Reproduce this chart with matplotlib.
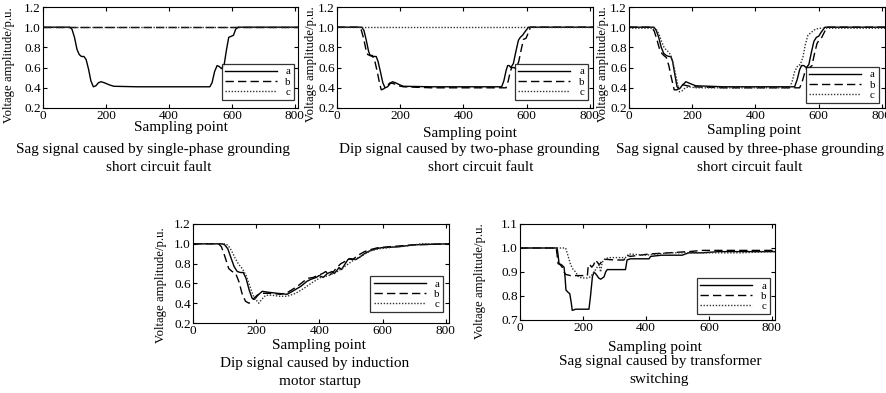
import matplotlib
matplotlib.use("Agg")
import matplotlib.pyplot as plt

plt.rcParams['font.family'] = ['Liberation Serif', 'DejaVu Serif']

# ---------------- data ----------------
# Panel 1: single-phase grounding fault
p1_a_x = [0, 85, 92, 100, 108, 115, 122, 130, 137, 145, 152, 160, 168, 176, 184, 195, 210, 225, 300, 400, 500, 530, 537, 545, 553, 560, 567, 575, 583, 590, 598, 605, 612, 620, 700, 810]
p1_a_y = [1.0, 1.0, 0.98, 0.9, 0.78, 0.73, 0.71, 0.71, 0.68, 0.58, 0.47, 0.41, 0.42, 0.45, 0.46, 0.45, 0.43, 0.415, 0.41, 0.41, 0.41, 0.41, 0.45, 0.56, 0.62, 0.61, 0.59, 0.62, 0.78, 0.9, 0.91, 0.92, 0.98, 1.0, 1.0, 1.0]
p1_b_x = [0, 810]
p1_b_y = [1.0, 1.0]
p1_c_x = [0, 810]
p1_c_y = [1.0, 1.0]

# Panel 2: two-phase grounding fault
p2_a_x = [0, 78, 85, 92, 100, 105, 112, 124, 130, 138, 145, 152, 160, 168, 175, 185, 198, 210, 300, 400, 500, 521, 528, 535, 540, 545, 550, 558, 566, 574, 580, 587, 596, 606, 700, 810]
p2_a_y = [1.0, 1.0, 0.97, 0.88, 0.76, 0.72, 0.71, 0.71, 0.66, 0.55, 0.45, 0.40, 0.41, 0.44, 0.46, 0.45, 0.43, 0.415, 0.41, 0.41, 0.41, 0.41, 0.47, 0.57, 0.62, 0.62, 0.60, 0.64, 0.76, 0.87, 0.90, 0.92, 0.96, 1.0, 1.0, 1.0]
p2_b_x = [0, 70, 77, 85, 92, 97, 104, 112, 120, 128, 135, 140, 148, 158, 168, 180, 195, 210, 300, 400, 500, 535, 542, 548, 553, 560, 567, 575, 583, 590, 598, 606, 612, 700, 810]
p2_b_y = [1.0, 1.0, 0.97, 0.88, 0.77, 0.73, 0.72, 0.72, 0.66, 0.55, 0.44, 0.38, 0.39, 0.42, 0.45, 0.44, 0.42, 0.41, 0.40, 0.40, 0.40, 0.40, 0.47, 0.56, 0.60, 0.60, 0.59, 0.66, 0.78, 0.88, 0.89, 0.95, 1.0, 1.0, 1.0]
p2_c_x = [0, 810]
p2_c_y = [1.0, 1.0]

# Panel 3: three-phase grounding fault
p3_a_x = [0, 79, 86, 94, 102, 110, 118, 126, 132, 138, 144, 152, 160, 170, 180, 195, 211, 300, 400, 500, 524, 532, 540, 546, 553, 561, 569, 577, 585, 593, 600, 608, 620, 700, 810]
p3_a_y = [1.0, 1.0, 0.97, 0.90, 0.80, 0.74, 0.72, 0.71, 0.71, 0.66, 0.55, 0.41, 0.39, 0.43, 0.46, 0.44, 0.42, 0.41, 0.41, 0.41, 0.41, 0.48, 0.58, 0.62, 0.62, 0.60, 0.63, 0.75, 0.86, 0.90, 0.91, 0.95, 1.0, 1.0, 1.0]
p3_b_x = [0, 72, 80, 88, 96, 104, 110, 118, 126, 134, 143, 152, 162, 170, 185, 200, 300, 400, 500, 540, 548, 556, 563, 571, 579, 587, 595, 603, 610, 618, 626, 700, 810]
p3_b_y = [1.0, 1.0, 0.96, 0.88, 0.79, 0.74, 0.72, 0.70, 0.62, 0.50, 0.38, 0.38, 0.41, 0.43, 0.42, 0.41, 0.40, 0.40, 0.40, 0.40, 0.46, 0.55, 0.60, 0.60, 0.62, 0.74, 0.84, 0.88, 0.90, 0.95, 1.0, 1.0, 1.0]
p3_c_x = [0, 80, 88, 95, 103, 111, 119, 127, 135, 143, 151, 159, 168, 178, 190, 210, 300, 400, 508, 516, 524, 534, 542, 550, 558, 566, 577, 590, 603, 700, 810]
p3_c_y = [0.99, 0.99, 0.97, 0.93, 0.86, 0.80, 0.77, 0.75, 0.70, 0.60, 0.48, 0.36, 0.37, 0.40, 0.41, 0.40, 0.40, 0.40, 0.40, 0.46, 0.56, 0.62, 0.63, 0.70, 0.83, 0.92, 0.95, 0.98, 0.99, 0.99, 0.99]

# Panel 4: induction motor startup
p4_a_x = [0, 92, 100, 110, 120, 130, 140, 150, 159, 168, 178, 187, 195, 205, 219, 240, 267, 298, 320, 341, 360, 372, 390, 399, 412, 425, 440, 447, 455, 462, 470, 478, 490, 499, 515, 530, 542, 560, 580, 595, 650, 700, 810]
p4_a_y = [1.0, 1.0, 0.99, 0.95, 0.86, 0.77, 0.72, 0.71, 0.71, 0.65, 0.53, 0.45, 0.44, 0.48, 0.52, 0.51, 0.50, 0.49, 0.53, 0.57, 0.62, 0.64, 0.66, 0.68, 0.66, 0.70, 0.72, 0.70, 0.73, 0.76, 0.74, 0.78, 0.84, 0.85, 0.84, 0.87, 0.90, 0.93, 0.95, 0.96, 0.97, 0.99, 1.0]
p4_b_x = [0, 81, 90, 100, 113, 124, 135, 145, 155, 166, 177, 185, 193, 203, 214, 240, 277, 300, 330, 362, 380, 395, 410, 420, 431, 445, 455, 468, 480, 492, 505, 520, 542, 560, 584, 620, 700, 810]
p4_b_y = [1.0, 1.0, 0.97, 0.88, 0.75, 0.72, 0.70, 0.62, 0.50, 0.42, 0.40, 0.42, 0.45, 0.48, 0.50, 0.50, 0.49, 0.51, 0.57, 0.65, 0.66, 0.68, 0.70, 0.72, 0.68, 0.72, 0.76, 0.80, 0.82, 0.85, 0.84, 0.88, 0.92, 0.94, 0.96, 0.97, 0.99, 1.0]
p4_c_x = [0, 103, 112, 122, 134, 145, 156, 168, 180, 190, 198, 208, 218, 230, 250, 275, 298, 325, 351, 378, 404, 430, 457, 480, 510, 535, 563, 590, 616, 680, 722, 810]
p4_c_y = [1.0, 1.0, 0.98, 0.93, 0.85, 0.79, 0.75, 0.68, 0.57, 0.48, 0.44, 0.40, 0.44, 0.48, 0.48, 0.47, 0.47, 0.50, 0.55, 0.61, 0.66, 0.68, 0.72, 0.77, 0.84, 0.88, 0.93, 0.95, 0.96, 0.98, 1.0, 1.0]

# Panel 5: transformer switching
p5_a_x = [0, 118, 121, 124, 132, 140, 143, 146, 153, 158, 163, 166, 177, 200, 219, 224, 230, 235, 242, 250, 256, 262, 267, 272, 277, 300, 335, 340, 350, 380, 410, 415, 450, 515, 536, 580, 632, 810]
p5_a_y = [1.0, 1.0, 0.97, 0.935, 0.93, 0.92, 0.88, 0.825, 0.815, 0.81, 0.77, 0.74, 0.745, 0.745, 0.745, 0.80, 0.88, 0.90, 0.89, 0.875, 0.87, 0.875, 0.88, 0.90, 0.91, 0.91, 0.91, 0.95, 0.955, 0.955, 0.955, 0.965, 0.97, 0.97, 0.98, 0.98, 0.985, 0.985]
p5_b_x = [0, 115, 118, 121, 128, 134, 140, 145, 160, 190, 214, 217, 222, 228, 234, 240, 246, 252, 260, 272, 300, 330, 340, 350, 380, 410, 473, 536, 580, 640, 810]
p5_b_y = [1.0, 1.0, 0.97, 0.935, 0.93, 0.92, 0.90, 0.89, 0.885, 0.885, 0.885, 0.93, 0.93, 0.92, 0.93, 0.95, 0.94, 0.93, 0.945, 0.953, 0.95, 0.95, 0.97, 0.965, 0.97, 0.975, 0.98, 0.985, 0.99, 0.99, 0.99]
p5_c_x = [0, 145, 152, 161, 169, 177, 183, 187, 200, 214, 224, 235, 245, 251, 256, 261, 270, 283, 310, 335, 346, 400, 473, 560, 700, 810]
p5_c_y = [1.0, 1.0, 0.97, 0.93, 0.91, 0.90, 0.885, 0.878, 0.875, 0.875, 0.88, 0.90, 0.92, 0.93, 0.90, 0.94, 0.955, 0.96, 0.96, 0.96, 0.975, 0.97, 0.98, 0.98, 0.98, 0.985]

series_labels = ['a', 'b', 'c']
x_ticks = [0, 200, 400, 600, 800]
y_ticks_main = [0.2, 0.4, 0.6, 0.8, 1.0, 1.2]
y_ticks_p5 = [0.7, 0.8, 0.9, 1.0, 1.1]

captions = [
    ("Sag signal caused by single-phase grounding", "short circuit fault"),
    ("Dip signal caused by two-phase grounding", "short circuit fault"),
    ("Sag signal caused by three-phase grounding", "short circuit fault"),
    ("Dip signal caused by induction", "motor startup"),
    ("Sag signal caused by transformer", "switching"),
]

# ---------------- layout ----------------
W, H = 886, 393
fig = plt.figure(figsize=(W / 100, H / 100), dpi=100)


def px_axes(l, r, t, b):
    return [l / W, 1 - b / H, (r - l) / W, (b - t) / H]


panels = [
    dict(rect=px_axes(43, 298, 7, 108), data=[(p1_a_x, p1_a_y), (p1_b_x, p1_b_y), (p1_c_x, p1_c_y)],
         yt=y_ticks_main, ylim=(0.2, 1.2), leg=(0.985, 0.08), ylc=(-0.11, 0.42),
         xl=(181, 128), c1=(153, 149), c2=(159, 167)),
    dict(rect=px_axes(337, 593, 7, 108), data=[(p2_a_x, p2_a_y), (p2_b_x, p2_b_y), (p2_c_x, p2_c_y)],
         yt=y_ticks_main, ylim=(0.2, 1.2), leg=(0.98, 0.08), ylc=(-0.078, 0.43),
         xl=(470, 133), c1=(469, 150), c2=(481, 167)),
    dict(rect=px_axes(629, 885, 7, 108), data=[(p3_a_x, p3_a_y), (p3_b_x, p3_b_y), (p3_c_x, p3_c_y)],
         yt=y_ticks_main, ylim=(0.2, 1.2), leg=(0.975, 0.05), ylc=(-0.078, 0.43),
         xl=(754, 131), c1=(750, 149), c2=(750, 167)),
    dict(rect=px_axes(193, 449, 224, 323), data=[(p4_a_x, p4_a_y), (p4_b_x, p4_b_y), (p4_c_x, p4_c_y)],
         yt=y_ticks_main, ylim=(0.2, 1.2), leg=(0.977, 0.11), ylc=(-0.10, 0.38),
         xl=(319, 345), c1=(315, 363), c2=(320, 382)),
    dict(rect=px_axes(520, 775, 224, 320), data=[(p5_a_x, p5_a_y), (p5_b_x, p5_b_y), (p5_c_x, p5_c_y)],
         yt=y_ticks_p5, ylim=(0.7, 1.1), leg=(0.98, 0.06), ylc=(-0.135, 0.40),
         xl=(655, 348), c1=(660, 361), c2=(659, 379)),
]

styles = [
    dict(color='black', lw=1.0, ls='-'),
    dict(color='black', lw=1.0, ls=(0, (6, 3))),
    dict(color='#333333', lw=1.0, ls=(0, (1, 1.2))),
]

for i, p in enumerate(panels):
    ax = fig.add_axes(p['rect'])
    for (xs, ys), st, lab in zip(p['data'], styles, series_labels):
        ax.plot(xs, ys, label=lab, **st)
    ax.set_xlim(0, 810)
    ax.set_ylim(*p['ylim'])
    ax.set_xticks(x_ticks)
    ax.set_yticks(p['yt'])
    ax.set_yticklabels([f"{v:.1f}" for v in p['yt']])
    ax.tick_params(direction='in', top=True, right=True, length=3, width=0.8,
                   labelsize=9.5, pad=1.5)
    for s in ax.spines.values():
        s.set_linewidth(0.8)
    ax.set_ylabel("Voltage amplitude/p.u.", fontsize=9.2)
    ax.yaxis.set_label_coords(*p['ylc'])
    leg = ax.legend(loc='lower right', bbox_to_anchor=p['leg'], fontsize=7.8,
                    frameon=True, fancybox=False, edgecolor='black',
                    handlelength=4.8, handletextpad=0.8, labelspacing=0.05,
                    borderpad=0.3, borderaxespad=0.0)
    leg.get_frame().set_linewidth(0.9)
    fig.text(p['xl'][0] / W, 1 - p['xl'][1] / H, "Sampling point",
             ha='center', va='center', fontsize=11)
    fig.text(p['c1'][0] / W, 1 - p['c1'][1] / H, captions[i][0],
             ha='center', va='center', fontsize=11)
    fig.text(p['c2'][0] / W, 1 - p['c2'][1] / H, captions[i][1],
             ha='center', va='center', fontsize=11)

fig.savefig("out.png", dpi=100)
